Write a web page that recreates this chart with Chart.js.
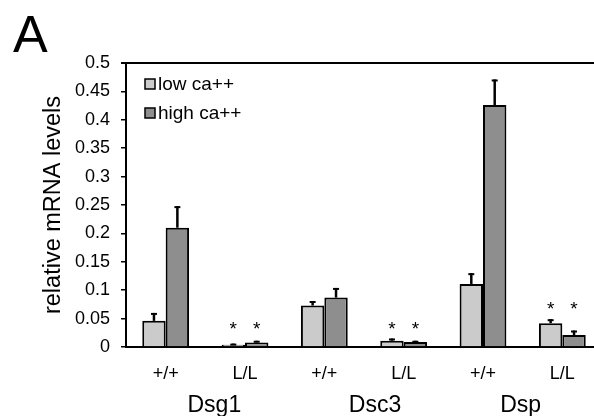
<!DOCTYPE html>
<html>
<head>
<meta charset="utf-8">
<script src="https://cdn.jsdelivr.net/npm/chart.js@4.4.0/dist/chart.umd.min.js"></script>
<style>
  html, body { margin: 0; padding: 0; background: #fff; overflow: hidden; }
  canvas { display: block; }
</style>
</head>
<body>
<canvas id="chart" width="606" height="416"></canvas>
<script>
// genotype per bar group, gene per pair of groups
const categories = ['+/+', 'L/L', '+/+', 'L/L', '+/+', 'L/L'];
const genes = ['Dsg1', 'Dsc3', 'Dsp'];

const seriesNames = ['low ca++', 'high ca++'];
const lowValues = [0.046, 0.004, 0.073, 0.011, 0.111, 0.042];
const lowErrors = [0.014, 0.002, 0.008, 0.004, 0.019, 0.007];
const highValues = [0.210, 0.008, 0.087, 0.009, 0.426, 0.021];
const highErrors = [0.038, 0.003, 0.017, 0.002, 0.045, 0.008];

// height (in data units) of the significance stars, null = no star
const starLevels = [null, 0.039, null, 0.039, null, 0.074];

const yTicks = [0, 0.05, 0.1, 0.15, 0.2, 0.25, 0.3, 0.35, 0.4, 0.45, 0.5];

const FONT = 'Arial, "Liberation Sans", sans-serif';
const lowColor = '#cbcbcb';
const highColor = '#8e8e8e';

const errorBars = {
  id: 'errorBars',
  afterDatasetsDraw(chart) {
    const ctx = chart.ctx;
    const y = chart.scales.y;
    const errs = [lowErrors, highErrors];
    ctx.save();
    ctx.strokeStyle = '#000';
    chart.data.datasets.forEach((ds, di) => {
      const meta = chart.getDatasetMeta(di);
      meta.data.forEach((bar, i) => {
        const top = y.getPixelForValue(ds.data[i] + errs[di][i]);
        ctx.lineWidth = 2.5;
        ctx.beginPath();
        ctx.moveTo(bar.x, bar.y);
        ctx.lineTo(bar.x, top);
        ctx.stroke();
        ctx.lineWidth = 2;
        ctx.beginPath();
        ctx.moveTo(bar.x - 3, top + 1);
        ctx.lineTo(bar.x + 3, top + 1);
        ctx.stroke();
      });
    });
    // stars
    ctx.fillStyle = '#000';
    ctx.font = '19px ' + FONT;
    ctx.textAlign = 'center';
    ctx.textBaseline = 'alphabetic';
    chart.data.datasets.forEach((ds, di) => {
      const meta = chart.getDatasetMeta(di);
      meta.data.forEach((bar, i) => {
        if (starLevels[i] == null) return;
        const cy = y.getPixelForValue(starLevels[i]);
        ctx.fillText('*', bar.x, cy + 10);
      });
    });
    ctx.restore();
  },
  afterDraw(chart) {
    const ctx = chart.ctx;
    const area = chart.chartArea;
    const x = chart.scales.x;
    ctx.save();
    // top frame line
    ctx.strokeStyle = '#000';
    ctx.lineWidth = 2;
    ctx.beginPath();
    ctx.moveTo(area.left - 5, area.top);
    ctx.lineTo(chart.width, area.top);
    ctx.stroke();

    // panel letter
    ctx.fillStyle = '#000';
    ctx.font = '52px ' + FONT;
    ctx.textAlign = 'left';
    ctx.textBaseline = 'alphabetic';
    ctx.fillText('A', 13, 52);

    // gene labels under each pair
    const nudge = [9, 11, -2];
    ctx.font = '23px ' + FONT;
    ctx.textAlign = 'center';
    ctx.textBaseline = 'middle';
    genes.forEach((g, gi) => {
      const cx = (x.getPixelForValue(gi * 2) + x.getPixelForValue(gi * 2 + 1)) / 2;
      ctx.fillText(g, cx + nudge[gi], 406);
    });

    // legend in the plot corner
    const colors = [lowColor, highColor];
    ctx.font = '19px ' + FONT;
    ctx.textAlign = 'left';
    seriesNames.forEach((name, i) => {
      const ly = area.top + 21 + i * 29;
      ctx.fillStyle = colors[i];
      ctx.fillRect(area.left + 19, ly - 5, 10, 10);
      ctx.strokeStyle = '#000';
      ctx.lineWidth = 1.5;
      ctx.strokeRect(area.left + 19, ly - 5, 10, 10);
      ctx.fillStyle = '#000';
      ctx.fillText(name, area.left + 32, ly + 1);
    });
    ctx.restore();
  }
};

new Chart(document.getElementById('chart'), {
  type: 'bar',
  data: {
    labels: categories,
    datasets: [
      {
        label: seriesNames[0],
        data: lowValues,
        backgroundColor: lowColor,
        borderColor: '#000',
        borderWidth: 2,
        categoryPercentage: 0.59,
        barPercentage: 1.0
      },
      {
        label: seriesNames[1],
        data: highValues,
        backgroundColor: highColor,
        borderColor: '#000',
        borderWidth: 2,
        categoryPercentage: 0.59,
        barPercentage: 1.0
      }
    ]
  },
  options: {
    responsive: false,
    animation: false,
    layout: { padding: { top: 63, right: 4, bottom: 0, left: 0 } },
    plugins: {
      legend: { display: false },
      tooltip: { enabled: false },
      title: { display: false }
    },
    scales: {
      x: {
        grid: { display: false },
        border: { display: true, color: '#000', width: 2 },
        ticks: {
          color: '#000',
          padding: 8,
          font: { family: FONT, size: 18 }
        },
        afterFit: (scale) => { scale.height = 69; }
      },
      y: {
        min: 0,
        max: 0.5,
        afterBuildTicks: (scale) => { scale.ticks = yTicks.map(v => ({ value: v })); },
        grid: {
          drawOnChartArea: false,
          color: '#000',
          lineWidth: 1.5,
          tickLength: 5
        },
        border: { display: true, color: '#000', width: 2 },
        ticks: {
          color: '#000',
          padding: 11,
          font: { family: FONT, size: 18 }
          ,
          callback: (v) => String(+Number(v).toFixed(2))
        },
        title: {
          display: true,
          text: 'relative mRNA levels',
          color: '#000',
          font: { family: FONT, size: 23.5 },
          padding: { top: 39, bottom: 0 }
        },
        afterFit: (scale) => { scale.width = 126; }
      }
    }
  },
  plugins: [errorBars]
});
</script>
</body>
</html>
